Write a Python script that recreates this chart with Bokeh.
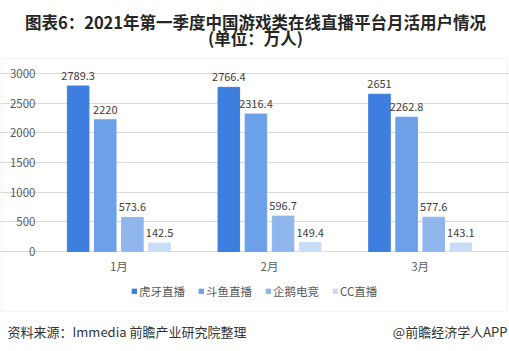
from bokeh.plotting import figure
from bokeh.models import (ColumnDataSource, Label, BoxAnnotation, Legend, LegendItem,
                          Range1d, Grid, FixedTicker)
from bokeh.transform import dodge
from bokeh.core.properties import value
from bokeh.embed import file_html
from bokeh.resources import INLINE

months = ["1月", "2月", "3月"]
series_names = ["虎牙直播", "斗鱼直播", "企鹅电竞", "CC直播"]
huya = [2789.3, 2766.4, 2651]
douyu = [2220, 2316.4, 2262.8]
penguin = [573.6, 596.7, 577.6]
cc = [142.5, 149.4, 143.1]
y_ticks = [0, 500, 1000, 1500, 2000, 2500, 3000]

title1 = "图表6：2021年第一季度中国游戏类在线直播平台月活用户情况"
title2 = "(单位：万人)"
source_text = "资料来源：Immedia 前瞻产业研究院整理"
brand_text = "@前瞻经济学人APP"

colors = ["#3D7EDF", "#6CA0E9", "#8FB7EE", "#C8DCF7"]
offsets = [-0.27, -0.09, 0.09, 0.27]
FONT = "Noto Sans CJK SC"

W, H = 509, 351
PL, PR = 43, 495          # plot area left/right (page px)
Y0_PX, YMAX_PX = 251, 73  # page rows of value 0 and 3000
YMAX = 3000
NCAT = len(months)


def px_x(X):
    # page pixel column -> category units (category i spans i..i+1)
    return (X - PL) / (PR - PL) * NCAT


def px_y(Y):
    # page pixel row -> value units
    return (Y0_PX - Y) / (Y0_PX - YMAX_PX) * YMAX


cat_x = [i + 0.5 for i in range(NCAT)]

# the frame is the whole page, so nothing is clipped
p = figure(width=W, height=H, x_range=Range1d(px_x(0), px_x(W)), y_range=Range1d(px_y(H), px_y(0)),
           x_axis_type=None, y_axis_type=None, output_backend="svg", toolbar_location=None,
           min_border=0)
p.outline_line_color = None

# horizontal gridlines, limited to the plot area
p.add_layout(Grid(dimension=1, ticker=FixedTicker(ticks=y_ticks), bounds=(0, NCAT),
                  grid_line_color="#d9d9d9"))

# y tick labels
p.text(x=[0] * len(y_ticks), y=y_ticks, text=[str(t) for t in y_ticks],
       text_align="right", text_baseline="middle", x_offset=-8,
       text_font_size="11.5px", text_color="#595959", text_font=value(FONT))

# category axis line and labels
p.line(x=[0, NCAT], y=[0, 0], line_color="#d9d9d9", line_width=1)
p.text(x=cat_x, y=[0] * NCAT, text=months, text_align="center", text_baseline="middle",
       y_offset=14, text_font_size="11.5px", text_color="#595959", text_font=value(FONT))

items = []
for name, vals, col, off in zip(series_names, [huya, douyu, penguin, cc], colors, offsets):
    src = ColumnDataSource(dict(x=cat_x, y=vals, lab=[f"{v:g}" for v in vals]))
    r = p.vbar(x=dodge("x", off), top="y", width=0.143, color=col, source=src)
    p.text(x=dodge("x", off), y="y", text="lab", source=src,
           text_align="center", text_baseline="bottom", y_offset=-6,
           text_font_size="11px", text_color="#404040", text_font=value(FONT))
    items.append(LegendItem(label=name, renderers=[r]))

legend = Legend(items=items, orientation="horizontal", location=(131, 52),
                glyph_width=6, glyph_height=6, label_standoff=2, spacing=13,
                padding=0, margin=0, border_line_color=None, background_fill_alpha=0,
                label_text_font_size="11.5px", label_text_color="#595959",
                label_height=12, label_text_font=FONT)
p.add_layout(legend)

# outer box around the chart
p.add_layout(BoxAnnotation(left=px_x(1), right=px_x(507), top=px_y(58), bottom=px_y(311),
                           fill_alpha=0, line_color="#d9d9d9", line_width=1))

# titles
for txt, y in [(title1, 21), (title2, 37)]:
    p.add_layout(Label(x=px_x(255), y=px_y(y), text=txt,
                       text_align="center", text_baseline="middle",
                       text_font_size="16.5px", text_font_style="bold",
                       text_color="#262626", text_font=FONT))

# footer
p.add_layout(Label(x=px_x(7), y=px_y(331), text=source_text,
                   text_align="left", text_baseline="middle", text_font_size="13px",
                   text_color="#333333", text_font=FONT))
p.add_layout(Label(x=px_x(507), y=px_y(331), text=brand_text,
                   text_align="right", text_baseline="middle", text_font_size="13px",
                   text_color="#333333", text_font=FONT))

open("out.html", "w").write(file_html(p, INLINE))
